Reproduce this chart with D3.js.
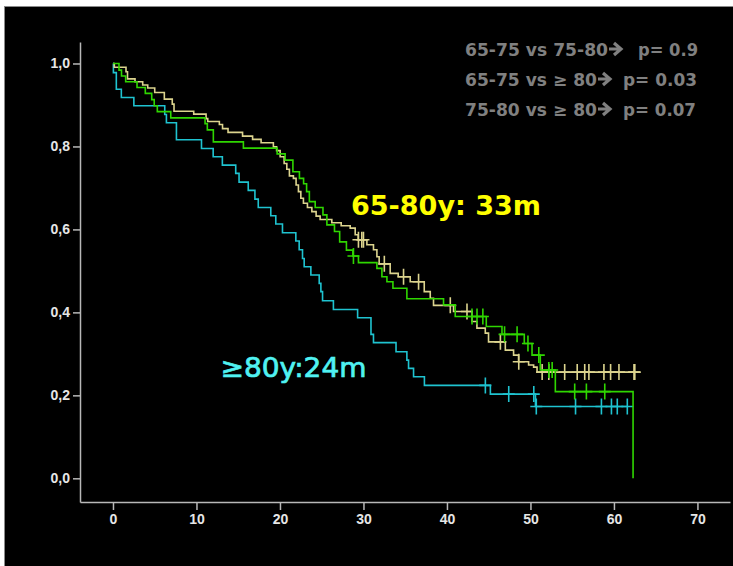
<!DOCTYPE html>
<html>
<head>
<meta charset="utf-8">
<script src="https://cdn.jsdelivr.net/npm/d3@7"></script>
<style>
  html, body { margin: 0; padding: 0; background: #ffffff; }
  svg { display: block; }
</style>
</head>
<body>
<script>
// Kaplan-Meier survival by age group (months)
const xTicks = [0, 10, 20, 30, 40, 50, 60, 70];
const yTicks = [0, 0.2, 0.4, 0.6, 0.8, 1.0];

// 65-75 group (green)
const g6575Times = [0.72, 1.02, 1.52, 2.88, 3.87, 4.64, 4.94, 5.31, 6.92, 11.03, 11.30, 12.02, 15.62, 19.66, 20.62, 21.55, 22.33, 22.83, 23.19, 23.52, 24.22, 25.15, 25.62, 26.53, 27.15, 27.96, 28.73, 29.40, 31.61, 32.21, 32.81, 33.53, 35.20, 39.59, 40.99, 44.71, 46.59, 49.26, 50.19, 51.18, 52.98, 62.29];
const g6575Surv = [0.984, 0.970, 0.956, 0.942, 0.928, 0.913, 0.898, 0.884, 0.869, 0.855, 0.840, 0.811, 0.796, 0.782, 0.767, 0.739, 0.723, 0.710, 0.691, 0.667, 0.653, 0.635, 0.611, 0.595, 0.570, 0.550, 0.536, 0.520, 0.506, 0.486, 0.474, 0.458, 0.433, 0.418, 0.390, 0.366, 0.347, 0.325, 0.297, 0.261, 0.209, 0];
const g6575Censored = [28.8, 43.0, 43.6, 44.3, 46.9, 48.4, 49.7, 51.0, 52.2, 52.6, 55.3, 56.7, 58.9];
const g6575End = 62.29;

// 75-80 group (khaki)
const g7580Times = [0.16, 1.56, 1.74, 2.64, 3.56, 4.16, 5.00, 6.15, 7.10, 7.31, 9.67, 11.15, 11.35, 12.74, 13.12, 13.78, 15.52, 16.72, 17.74, 19.21, 19.60, 20.02, 20.50, 20.82, 21.13, 21.61, 21.93, 22.21, 22.50, 22.81, 23.29, 23.82, 24.33, 24.81, 26.21, 27.33, 28.41, 29.01, 29.37, 30.41, 31.20, 31.61, 31.88, 33.20, 34.16, 35.60, 37.28, 38.00, 38.39, 40.79, 43.00, 43.59, 44.59, 44.98, 46.99, 47.98, 48.58, 49.78, 50.38, 50.79];
const g7580Surv = [0.991, 0.980, 0.963, 0.956, 0.948, 0.941, 0.930, 0.914, 0.902, 0.885, 0.878, 0.867, 0.860, 0.853, 0.843, 0.834, 0.825, 0.817, 0.809, 0.799, 0.790, 0.775, 0.759, 0.745, 0.729, 0.723, 0.707, 0.691, 0.675, 0.663, 0.653, 0.643, 0.632, 0.624, 0.616, 0.609, 0.603, 0.587, 0.575, 0.563, 0.551, 0.534, 0.517, 0.494, 0.486, 0.474, 0.450, 0.434, 0.417, 0.402, 0.378, 0.362, 0.350, 0.329, 0.309, 0.297, 0.281, 0.273, 0.268, 0.256];
const g7580Censored = [29.4, 29.8, 30.0, 32.5, 34.8, 36.6, 40.4, 42.4, 46.4, 48.6, 51.4, 52.2, 54.1, 55.6, 56.5, 57.0, 58.8, 59.6, 60.6, 62.4, 62.5];
const g7580End = 62.5;

// >=80 group (cyan)
const g80Times = [0.05, 0.4, 1.0, 2.5, 6.2, 6.4, 7.6, 10.6, 12.0, 13.1, 14.7, 15.1, 16.2, 17.0, 17.4, 18.9, 19.5, 20.3, 21.9, 22.3, 22.7, 22.9, 23.7, 24.7, 24.9, 25.1, 26.4, 29.3, 30.9, 31.2, 33.9, 35.2, 35.4, 36.0, 37.3, 45.2, 50.6];
const g80Surv = [0.978, 0.938, 0.918, 0.898, 0.877, 0.857, 0.816, 0.795, 0.775, 0.755, 0.735, 0.714, 0.694, 0.673, 0.653, 0.633, 0.613, 0.592, 0.572, 0.551, 0.530, 0.510, 0.490, 0.470, 0.450, 0.428, 0.407, 0.387, 0.347, 0.327, 0.305, 0.285, 0.265, 0.245, 0.224, 0.203, 0.173];
const g80Censored = [44.6, 47.4, 50.4, 50.7, 55.4, 58.5, 59.7, 60.4, 61.6];
const g80End = 61.6;

// comparison lines: left part, arrow, p-value part
const pLeft = ["65-75 vs 75-80", "65-75 vs \u2265 80", "75-80 vs \u2265 80"];
const pRight = ["p= 0.9", "p= 0.03", "p= 0.07"];
const medianLabelMid = "65-80y: 33m";
const medianLabelOld = "\u226580y:24m";

const W = 733, H = 566;
const svg = d3.select("body").append("svg").attr("width", W).attr("height", H);

// dark panel
svg.append("rect").attr("x", 4.5).attr("y", 6.5).attr("width", 740).attr("height", 580)
  .attr("fill", "#000").attr("stroke", "#8a8a8a").attr("stroke-width", 1);

const x = d3.scaleLinear().domain([-3.95, 73.9]).range([80, 730]);
const y = d3.scaleLinear().domain([-0.0571, 1.0518]).range([502, 42]);

const axisColor = "#b8b8b8";
const tickFont = "bold 14px 'Liberation Sans', Arial, sans-serif";

const xAxis = svg.append("g").attr("transform", "translate(0,502)")
  .call(d3.axisBottom(x).tickValues(xTicks).tickSize(8).tickSizeOuter(0).tickPadding(4).tickFormat(d3.format("d")));
const yAxis = svg.append("g").attr("transform", "translate(80,0)")
  .call(d3.axisLeft(y).tickValues(yTicks).tickSize(7).tickSizeOuter(0).tickPadding(3)
    .tickFormat(d => d3.format(".1f")(d).replace(".", ",")));
[xAxis, yAxis].forEach(a => {
  a.select(".domain").attr("stroke", axisColor).attr("stroke-width", 1.5);
  a.selectAll(".tick line").attr("stroke", axisColor).attr("stroke-width", 1.5);
  a.selectAll(".tick text").attr("fill", "#e6e6e6").style("font", tickFont);
});

// step curve helpers
function stepPath(times, surv, end) {
  let d = `M${x(0)},${y(1)}`;
  times.forEach((t, i) => { d += `H${x(t)}V${y(surv[i])}`; });
  const lastT = times[times.length - 1];
  if (end > lastT) d += `H${x(end)}`;
  return d;
}
function levelAt(times, surv, t) {
  let s = 1;
  for (let i = 0; i < times.length; i++) { if (times[i] <= t) s = surv[i]; else break; }
  return s;
}

const series = [
  { times: g80Times, surv: g80Surv, cens: g80Censored, end: g80End, color: "#1fc3d0" },
  { times: g7580Times, surv: g7580Surv, cens: g7580Censored, end: g7580End, color: "#dcd48e" },
  { times: g6575Times, surv: g6575Surv, cens: g6575Censored, end: g6575End, color: "#2fd600" }
];

series.forEach(s => {
  svg.append("path").attr("d", stepPath(s.times, s.surv, s.end))
    .attr("fill", "none").attr("stroke", s.color).attr("stroke-width", 1.6);
  svg.append("g").selectAll("path").data(s.cens).join("path")
    .attr("d", t => {
      const cx = x(t), cy = y(levelAt(s.times, s.surv, t));
      return `M${cx - 6},${cy}H${cx + 6}M${cx},${cy - 8}V${cy + 8}`;
    })
    .attr("fill", "none").attr("stroke", s.color).attr("stroke-width", 1.6);
});

// p-values: text, heavy arrow, text
const pBase = [55.5, 85.5, 115.5];
const pLeftLen = [143, 132, 132];
const pRightStart = [638, 623, 623];
const pRightLen = [60, 74, 73];
const pFont = "bold 17px 'DejaVu Sans', Verdana, sans-serif";
const pColor = "#808080";
const pg = svg.append("g");
pLeft.forEach((str, i) => {
  pg.append("text").attr("x", 465).attr("y", pBase[i])
    .attr("textLength", pLeftLen[i]).attr("lengthAdjust", "spacingAndGlyphs")
    .attr("fill", pColor).style("font", pFont).text(str);
  const x1 = 465 + pLeftLen[i];
  // arrow: shaft plus chevron head
  const ay = pBase[i] - 6.5;
  pg.append("path")
    .attr("d", `M${x1 + 1},${ay}H${x1 + 12}M${x1 + 6},${ay - 6}L${x1 + 13},${ay}L${x1 + 6},${ay + 6}`)
    .attr("fill", "none").attr("stroke", pColor).attr("stroke-width", 3.2)
    .attr("stroke-linejoin", "miter");
  pg.append("text").attr("x", pRightStart[i]).attr("y", pBase[i])
    .attr("textLength", pRightLen[i]).attr("lengthAdjust", "spacingAndGlyphs")
    .attr("fill", pColor).style("font", pFont).text(pRight[i]);
});

// median survival labels
svg.append("text").attr("x", 351).attr("y", 215)
  .attr("textLength", 190).attr("lengthAdjust", "spacingAndGlyphs")
  .attr("fill", "#ffff00")
  .style("font", "bold 27px 'DejaVu Sans', Verdana, sans-serif")
  .text(medianLabelMid);
svg.append("text").attr("x", 220.5).attr("y", 377)
  .attr("textLength", 146).attr("lengthAdjust", "spacingAndGlyphs")
  .attr("fill", "#50f2f2").attr("stroke", "#50f2f2").attr("stroke-width", 0.7)
  .style("font", "27px 'DejaVu Sans', Verdana, sans-serif")
  .text(medianLabelOld);
</script>
</body>
</html>
